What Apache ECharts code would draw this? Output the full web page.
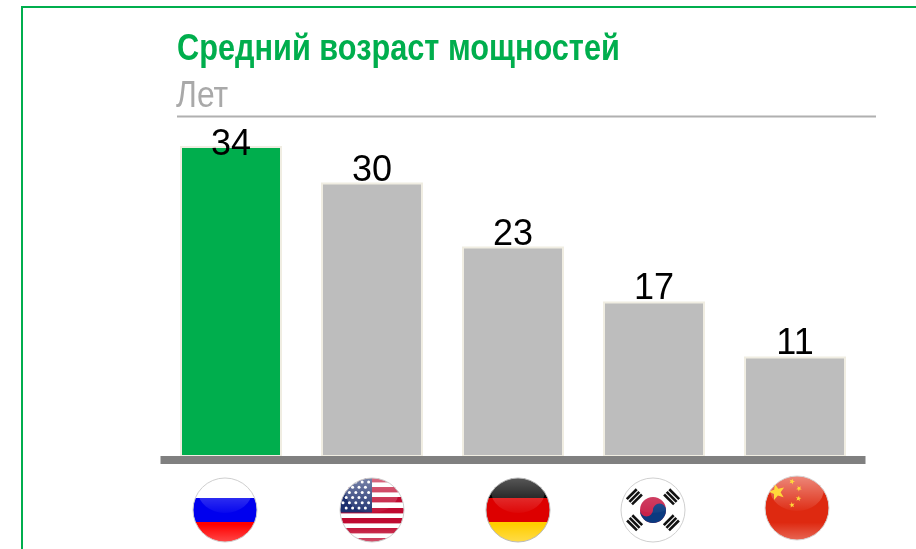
<!DOCTYPE html>
<html><head><meta charset="utf-8">
<style>html,body{margin:0;padding:0;background:#fff;overflow:hidden}#c{width:916px;height:549px}</style>
<script src="https://cdn.jsdelivr.net/npm/echarts@6/dist/echarts.min.js"></script>
</head><body><div id="c"></div>
<script>
const countries = ['Россия','США','Германия','Южная Корея','Китай'];
const ages = [34,30,23,17,11];
const titleText = 'Средний возраст мощностей';
const unitText = 'Лет';

const GREEN='#00ae4d', GRAY='#bdbdbd';

function star(cx,cy,r,rot){
  let p=[];
  for(let i=0;i<10;i++){
    const a=(rot-90+i*36)*Math.PI/180, R=i%2?r*0.42:r;
    p.push((cx+R*Math.cos(a)).toFixed(1)+','+(cy+R*Math.sin(a)).toFixed(1));
  }
  return `<polygon points="${p.join(' ')}" fill="#ffd83a"/>`;
}
function usa(){
  let s='<rect width="66" height="66" fill="#fff"/>';
  [0,10,20,30,40,50,60].forEach((y,i)=>{ s+=`<rect y="${y+(i>2?1:0)}" width="66" height="5.4" fill="#bf0a30"/>`; });
  s+='<rect width="33" height="35.5" fill="#1c2f6e"/>';
  for(let r=0;r<6;r++)for(let c=0;c<(r%2?4:5);c++){
    s+=`<circle cx="${4+c*6.4+(r%2?3.2:0)}" cy="${5+r*5.2}" r="1.5" fill="#fff"/>`;
  }
  return s;
}
function korea(){
  return '<rect width="66" height="66" fill="#fff"/>'
    +'<circle cx="33" cy="33" r="13" fill="#c8224b"/>'
    +'<path d="M20 33a13 13 0 0 0 26 0a6.5 6.5 0 0 0 -13 0a6.5 6.5 0 0 1 -13 0z" fill="#0b3a80"/>';
}
function koreaBars(){
  const bars=(rot,x,y)=>{
    let t='';
    for(let i=0;i<3;i++) t+=`<rect x="-7" y="${-5.2+i*3.7}" width="14" height="2.6" fill="#111"/>`;
    return `<g transform="translate(${x} ${y}) rotate(${rot})">${t}</g>`;
  };
  return bars(-45,14.5,20)+bars(45,51.5,20)+bars(45,14.5,46)+bars(-45,51.5,46);
}
function chinaStars(){
  return star(13,17,8.5,-15)+star(28,6.5,3,20)+star(35,13.5,2.9,40)+star(34.5,23.5,2.9,10)+star(28,30,2.9,-10);
}
function flag(inner,rim,top,glossA){
  return 'data:image/svg+xml;charset=utf-8,'+encodeURIComponent(
  `<svg xmlns="http://www.w3.org/2000/svg" width="66" height="66" viewBox="0 0 66 66">
  <defs><clipPath id="k"><circle cx="33" cy="33" r="32"/></clipPath>
  <linearGradient id="g" x1="0" y1="0" x2="0" y2="1"><stop offset="0" stop-color="#fff" stop-opacity="${glossA}"/><stop offset="1" stop-color="#fff" stop-opacity="0.03"/></linearGradient>
  <linearGradient id="b" x1="0" y1="0" x2="0" y2="1"><stop offset="0.72" stop-color="#fff" stop-opacity="0"/><stop offset="1" stop-color="#fff" stop-opacity="0.3"/></linearGradient></defs>
  <g clip-path="url(#k)">${inner}
  <ellipse cx="33" cy="14" rx="27" ry="22" fill="url(#g)"/>
  <rect width="66" height="66" fill="url(#b)"/>${top||''}</g>
  <circle cx="33" cy="33" r="32" fill="none" stroke="${rim}" stroke-width="1"/></svg>`);
}
const flags=[
  [225,510,flag('<rect width="66" height="22" fill="#fff"/><rect y="21" width="66" height="24" fill="#0000ee"/><rect y="45" width="66" height="21" fill="#f00"/>','#cfcfcf','',0.45)],
  [372,510,flag(usa(),'#cfcfcf','',0.5)],
  [518,510,flag('<rect width="66" height="22" fill="#000"/><rect y="21" width="66" height="24" fill="#dd0000"/><rect y="45" width="66" height="21" fill="#ffce00"/>','#bbb','',0.42)],
  [653,510,flag(korea(),'#d0d0d0',koreaBars(),0.3)],
  [797,508,flag('<rect width="66" height="66" fill="#de2910"/>','#d8d8d8',chinaStars(),0.55)]
];

const chart=echarts.init(document.getElementById('c'),null,{renderer:'canvas'});
chart.setOption({
  animation:false,
  backgroundColor:'#fff',
  grid:{left:160.5,right:50.5,top:146,bottom:92},
  xAxis:{type:'category',data:countries,offset:3,z:5,
    axisLine:{show:true,onZero:false,lineStyle:{color:'#808080',width:8,cap:'butt'}},
    axisTick:{show:false},axisLabel:{show:false}},
  yAxis:{type:'value',min:0,max:34,show:false,splitLine:{show:false}},
  series:[{type:'bar',barWidth:102,
    data:ages.map((v,i)=>({value:v,
      itemStyle:{color:i===0?GREEN:GRAY,borderColor:'#f0ede2',borderWidth:2},
      label:i===0?{offset:[0,11]}:{}})),
    label:{show:true,position:'top',distance:-6,fontFamily:'"Liberation Sans"',fontSize:36,color:'#000'}}],
  graphic:[
    {type:'text',z:10,silent:true,x:177,y:32,scaleX:0.853,style:{text:titleText,fontFamily:'"Liberation Sans"',fontWeight:'bold',fontSize:36,fill:GREEN}},
    {type:'text',z:10,silent:true,x:176,y:78,scaleX:0.86,style:{text:unitText,fontFamily:'"Liberation Sans"',fontSize:37,fill:'#a9a9a9'}},
    {type:'rect',z:10,silent:true,shape:{x:22,y:7,width:1000,height:1000},style:{fill:'none',stroke:GREEN,lineWidth:2}},
    {type:'line',z:10,silent:true,shape:{x1:177,y1:116.5,x2:876,y2:116.5},style:{stroke:'#b0b0b0',lineWidth:2}},
    ...flags.map(([x,y,img])=>({type:'image',z:10,silent:true,style:{image:img,x:x-33,y:y-33,width:66,height:66}}))
  ]
});
</script></body></html>
